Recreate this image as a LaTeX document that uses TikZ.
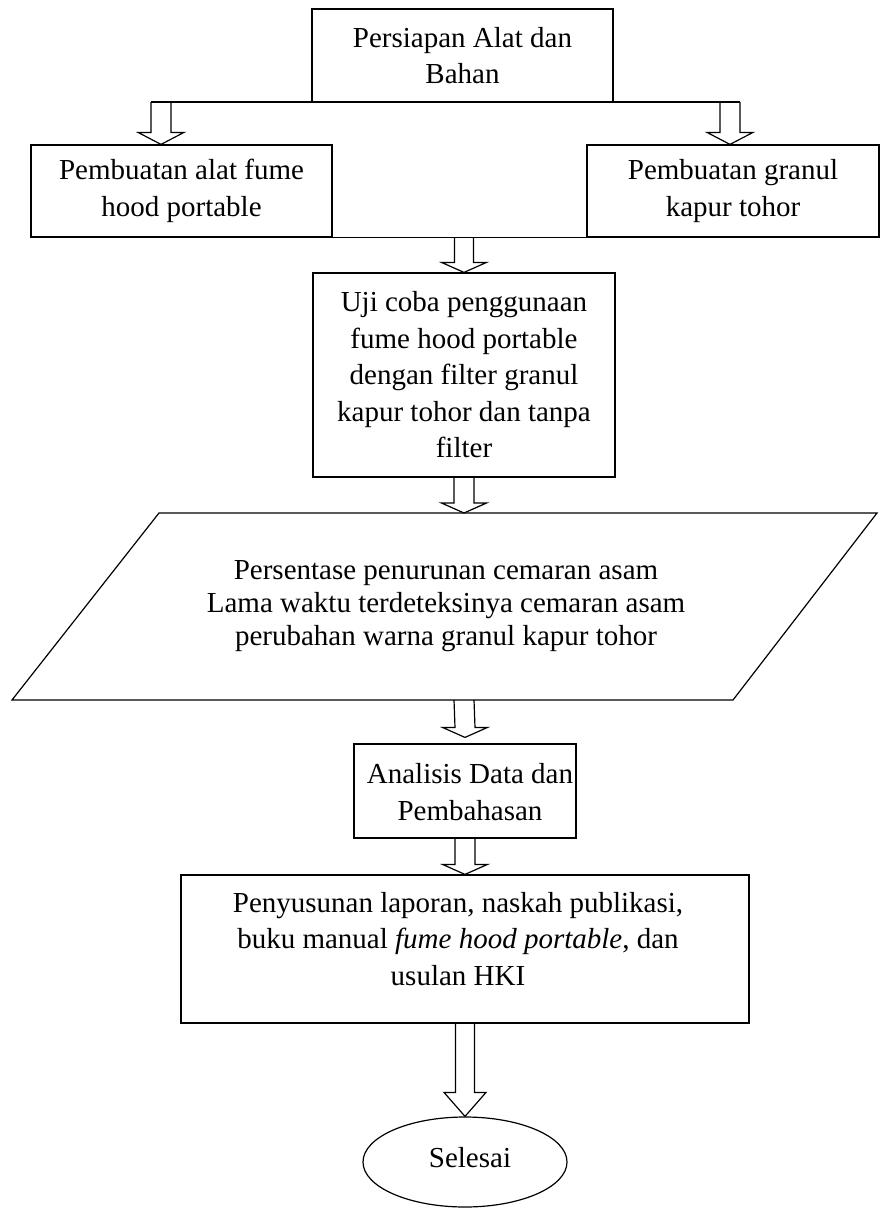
\documentclass[tikz,border=0pt]{standalone}
\usepackage{fontspec}
\setmainfont{Liberation Serif}
\usetikzlibrary{calc,shapes.geometric}
\tikzset{
  box/.style={draw, line width=1.2pt, rectangle, inner sep=0pt, align=center, font=\fontsize{29}{36.5}\selectfont},
  lbl/.style={inner sep=0pt, align=center, font=\fontsize{29}{36.5}\selectfont},
  ln/.style={line width=1.2pt},
  barr/.style={line width=1.2pt, line join=miter},
}
\newcommand\blkarrow[5]{% start, tip, shaft half width, head half width, head length
  \draw[barr] ($(#1)+(-#3,0)$) -- ($(#2)+(-#3,-#5)$) -- ($(#2)+(-#4,-#5)$) -- (#2)
    -- ($(#2)+(#4,-#5)$) -- ($(#2)+(#3,-#5)$) -- ($(#1)+(#3,0)$);}
\begin{document}
\begin{tikzpicture}[x=1pt,y=-1pt]
\useasboundingbox (0,0) rectangle (880,1208);

\node[box, minimum width=301pt, minimum height=93pt] (top) at (462.5,55.5) {Persiapan Alat dan\\Bahan};
\node[box, minimum width=301pt, minimum height=92pt] (left) at (181.5,191) {Pembuatan alat fume\\hood portable};
\node[box, minimum width=292pt, minimum height=92pt] (right) at (733,191) {Pembuatan granul\\kapur tohor};
\node[box, minimum width=302pt, minimum height=204pt] (uji) at (464,375) {Uji coba penggunaan\\fume hood portable\\dengan filter granul\\kapur tohor dan tanpa\\filter};

\draw[ln] (159,513) -- (877,513) -- (733,700) -- (12,700) -- cycle;
\node[lbl, font=\fontsize{29}{33}\selectfont] (para) at (446,606) {Persentase penurunan cemaran asam\\Lama waktu terdeteksinya cemaran asam\\perubahan warna granul kapur tohor};
\coordinate (ptop) at (464,513);
\coordinate (pbot) at (464,700);

\node[box, minimum width=222pt, minimum height=94pt] (ana) at (465,791) {};
\node[lbl] (anatext) at (470,792) {Analisis Data dan\\Pembahasan};
\node[box, minimum width=568pt, minimum height=148pt] (pen) at (465,949) {};
\node[lbl] (pentext) at (458,939) {Penyusunan laporan, naskah publikasi,\\buku manual \textit{fume hood portable}, dan\\usulan HKI};
\node[draw, ellipse, line width=1.2pt, minimum width=204pt, minimum height=90pt, inner sep=0pt] (sel) at (465,1162) {};
\node[lbl] (seltext) at (470,1158) {Selesai};

\coordinate (aL) at (161,102);
\coordinate (aR) at (730,102);
\coordinate (rowbar) at (464,237);
\coordinate (anain) at ($(ana.north)+(0,-6)$);

\draw[ln] ($(aL)+(-10,0)$) -- ($(aR)+(10,0)$);
\draw[ln] (left.south east) -- (right.south west);

\blkarrow{aL}{aL |- left.north}{10}{23}{12}
\blkarrow{aR}{aR |- right.north}{10}{23}{12}
\blkarrow{rowbar}{rowbar |- uji.north}{9.5}{22.5}{10}
\blkarrow{uji.south}{ptop}{10}{22.5}{10}
\blkarrow{pbot}{anain}{10}{22.5}{10}
\blkarrow{ana.south}{pen.north}{10}{22.5}{10}
\blkarrow{pen.south}{sel.north}{9.5}{21}{24}
\end{tikzpicture}
\end{document}
